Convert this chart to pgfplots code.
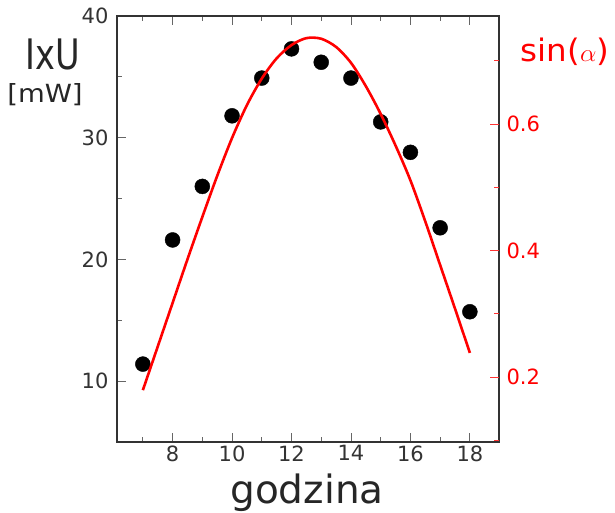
\documentclass[border=0pt]{standalone}
\usepackage{fontspec}
\setmainfont{DejaVu Sans}
\usepackage{pgfplots}
\pgfplotsset{compat=1.18}

\begin{document}
\begin{tikzpicture}
\pgfplotsset{
  every axis/.append style={
    scale only axis, width=382pt, height=426pt,
    xmin=6.13, xmax=18.98,
    tick align=inside,
    major tick length=9pt, minor tick length=5pt,
    /pgf/number format/assume math mode=true,
    ticklabel style={font=\fontsize{21}{24}\selectfont},
  }
}
% left axis: I x U [mW]
\begin{axis}[
    ymin=5, ymax=40,
    xtick={8,10,...,18}, minor xtick={7,9,...,19},
    ytick={10,20,30,40}, minor ytick={15,25,35},
    ytick pos=left,
    axis line style={line width=1.4pt, black!80},
    tick style={black!60, line width=0.8pt},
    yticklabel style={xshift=-5pt},
    xticklabel style={black!80},
    yticklabel style={black!80},
]
\addplot[only marks, mark=*, mark size=7.5pt, black] coordinates {
  (7,11.4) (8,21.6) (9,26.0) (10,31.8) (11,34.9) (12,37.3)
  (13,36.2) (14,34.9) (15,31.3) (16,28.8) (17,22.6) (18,15.7)
};
\end{axis}
% right axis: sin(alpha)
\begin{axis}[
    hide x axis,
    axis line style={draw=none},
    ytick pos=right,
    ymin=0.097, ymax=0.771,
    ytick={0.2,0.4,0.6}, minor ytick={0.1,0.3,0.5,0.7},
    tick style={red!80, line width=0.8pt},
    yticklabel style={red, xshift=4pt},
    /pgf/number format/.cd, fixed, precision=1,
]
\addplot[red, line width=2.6pt, smooth] coordinates {
  (7.0,0.179) (7.5,0.248) (8.0,0.317) (8.5,0.386) (9.0,0.453)
  (9.5,0.518) (10.0,0.578) (10.5,0.630) (11.0,0.672) (11.5,0.704)
  (12.0,0.725) (12.5,0.736) (13.0,0.735) (13.5,0.722) (14.0,0.697)
  (14.5,0.660) (15.0,0.616) (15.5,0.566) (16.0,0.511) (16.5,0.446)
  (17.0,0.377) (17.5,0.308) (18.0,0.238)
};
\end{axis}
\node[anchor=base, black!85, xscale=0.8] at (-64pt,372pt) {\fontsize{42}{46}\selectfont IxU};
\node[anchor=base, black!85, xscale=1.1] at (-72pt,339pt) {\fontsize{25}{28}\selectfont [mW]};
\node[anchor=base, red, xscale=1.05] at (448pt,380pt) {\fontsize{31}{34}\selectfont sin($\alpha$)};
\node[anchor=base, black!85] at (190pt,-61pt) {\fontsize{39}{42}\selectfont godzina};
\pgfresetboundingbox
\path (-117pt,-70pt) rectangle (498pt,442pt);
\end{tikzpicture}
\end{document}
